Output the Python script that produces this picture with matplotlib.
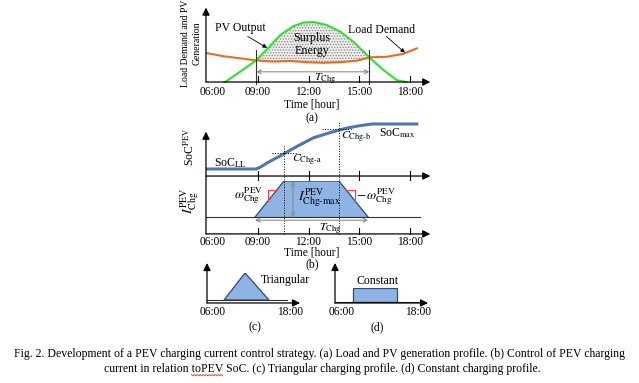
import matplotlib
matplotlib.use("Agg")
import matplotlib.pyplot as plt
from matplotlib.lines import Line2D
import numpy as np

plt.rcParams["font.family"] = ["Liberation Serif", "DejaVu Serif"]
plt.rcParams["mathtext.fontset"] = "stix"
plt.rcParams["hatch.linewidth"] = 0.6

W, H = 639, 383

# (a) load demand and PV generation (relative power, PV peak = 1)
pv_hours = [7.07, 7.95, 8.9, 9.63, 10.32, 11.1, 11.7, 12.29, 13.08, 13.87, 14.66, 15.6, 16.43, 17.22, 17.8]
pv_power = [0.0, 0.17, 0.36, 0.57, 0.78, 0.93, 0.99, 1.0, 0.95, 0.84, 0.67, 0.41, 0.2, 0.03, 0.0]
load_hours = [6.0, 6.97, 7.95, 8.9, 9.92, 10.9, 11.9, 12.88, 13.87, 14.86, 15.6, 16.63, 17.6, 18.4]
load_power = [0.48, 0.43, 0.395, 0.36, 0.34, 0.35, 0.33, 0.32, 0.33, 0.355, 0.41, 0.42, 0.47, 0.56]
charge_start, charge_end = 8.9, 15.6

# (b) PEV state of charge (LL = 0, max = 1) and charging current (max = 1)
soc_hours = [5.94, 8.9, 9.2, 9.53, 10.32, 11.31, 12.27, 13.28, 14.27, 15.0, 15.75, 18.5]
soc_level = [0.0, 0.0, 0.05, 0.13, 0.29, 0.50, 0.69, 0.81, 0.91, 0.96, 1.0, 1.0]
current_hours = [8.84, 10.55, 13.8, 15.52]
current_level = [0.0, 1.0, 1.0, 0.0]
soc_a, soc_b = 0.356, 0.89

tick_hours = [9, 12, 15, 18]
tick_labels = ["09:00", "12:00", "15:00", "18:00"]

# (c) triangular and (d) constant profiles
tri_hours = [8.46, 11.5, 14.96]
tri_level = [0.0, 1.0, 0.0]
const_hours = [8.6, 8.6, 14.96, 14.96]
const_level = [0.0, 1.0, 1.0, 0.0]

caption_1 = ("Fig. 2. Development of a PEV charging current control strategy. (a) Load and PV generation profile. "
             "(b) Control of PEV charging")
caption_2 = "current in relation toPEV SoC. (c) Triangular charging profile. (d) Constant charging profile."

green = "#2fe02f"
orange = "#ee6b1e"
blue = "#4d76b4"
fill_blue = "#8db4e2"
edge_blue = "#2c4b7c"

fig = plt.figure(figsize=(W / 100, H / 100), dpi=100)


def px_axes(x0, x1, y0, y1, ylim=(0, 1)):
    # 06:00 sits at pixel column x0, 18:00 at x1; ylim spans pixel rows y0 (bottom) to y1 (top)
    ax = fig.add_axes([x0 / W, 1 - y0 / H, (x1 - x0) / W, (y0 - y1) / H])
    ax.set_xlim(6, 18)
    ax.set_ylim(ylim)
    ax.axis("off")
    return ax


def arrow(ax, p0, p1, style="-|>", color="k", lw=0.9, ms=11):
    ax.annotate("", xy=p1, xytext=p0, annotation_clip=False,
                arrowprops=dict(arrowstyle=style, color=color, lw=lw,
                                mutation_scale=ms, shrinkA=0, shrinkB=0))


def label(ax, x, y, s, size=8, **kw):
    ax.text(x, y, s, fontsize=size, ha="center", va="center", clip_on=False, **kw)


# ---------- (a)
ax = px_axes(207, 410, 82, 22)
arrow(ax, (5.94, 0), (5.94, 1.24))
arrow(ax, (5.94, 0), (19.2, 0))
for t in tick_hours:
    ax.plot([t, t], [0, 0.1], color="k", lw=0.8, clip_on=False)
for t, s in zip([6.35] + tick_hours, ["06:00"] + tick_labels):
    label(ax, t, -0.16, s, size=8.3)
label(ax, 12.2, -0.37, "Time [hour]", size=8.3)
label(ax, 12.2, -0.6, "(a)", size=8.5)

pv_h = np.array(pv_hours)
pv_p = np.array(pv_power)
ld_h = np.array(load_hours)
ld_p = np.array(load_power)
m1 = (pv_h >= charge_start) & (pv_h <= charge_end)
m2 = (ld_h >= charge_start) & (ld_h <= charge_end)
ax.fill(np.r_[pv_h[m1], ld_h[m2][::-1]], np.r_[pv_p[m1], ld_p[m2][::-1]],
        facecolor="#ececec", edgecolor="#8a8a8a", hatch="......", lw=0)
ax.plot(load_hours, load_power, color=orange, lw=1.5, clip_on=False)
ax.plot(pv_hours, pv_power, color=green, lw=1.5, clip_on=False)

for t in (charge_start, charge_end):
    ax.plot([t, t], [-0.03, 0.53], color="#333333", lw=0.8, clip_on=False)
arrow(ax, (charge_start, 0.17), (charge_end, 0.17), style="<->", color="#8c8c8c", lw=0.8, ms=7)
label(ax, 13.0, 0.05, r"$T_{\rm Chg}$", size=8.5)

label(ax, 7.95, 0.9, "PV Output", size=8.5)
arrow(ax, (8.4, 0.76), (9.55, 0.57), lw=0.6, ms=6)
label(ax, 16.3, 0.86, "Load Demand", size=8.5)
arrow(ax, (16.6, 0.76), (17.7, 0.49), lw=0.6, ms=6)
label(ax, 12.2, 0.62, "Surplus\nEnergy", size=8.7, linespacing=1.15)

fig.text(186 / W, 1 - 43 / H, "Load Demand and PV", rotation=90, fontsize=7, ha="center", va="center")
fig.text(197 / W, 1 - 43 / H, "Generation", rotation=90, fontsize=7, ha="center", va="center")

# ---------- (b) SoC part
axs = px_axes(207, 410, 169, 124)
axs.plot(soc_hours, soc_level, color=blue, lw=2.2, clip_on=False, solid_capstyle="butt")
axs.plot([9.84, 11.32], [soc_a, soc_a], color="k", lw=0.7, ls=":", clip_on=False)
axs.plot([12.8, 14.63], [soc_b, soc_b], color="k", lw=0.7, ls=":", clip_on=False)
label(axs, 7.35, 0.13, r"SoC$_{\rm LL}$", size=8.5)
label(axs, 17.25, 0.8, r"SoC$_{\rm max}$", size=8.5)
label(axs, 11.9, 0.2, r"$C_{\rm Chg\text{-}a}$", size=8.5)
label(axs, 14.8, 0.71, r"$C_{\rm Chg\text{-}b}$", size=8.5)
for t in tick_hours:
    axs.plot([t, t], [-0.04, -0.24], color="k", lw=0.8, clip_on=False)
arrow(axs, (5.94, -0.156), (19.2, -0.156))

# ---------- (b) current part
axc = px_axes(207, 410, 217, 181)
arrow(axc, (5.94, -0.47), (5.94, 2.37))
arrow(axc, (5.94, -0.47), (19.2, -0.47))
axc.plot([5.94, 18.6], [0, 0], color="#333333", lw=0.8, clip_on=False)
for t in tick_hours:
    axc.plot([t, t], [-0.47, -0.3], color="k", lw=0.8, clip_on=False)
for t, s in zip([6.35] + tick_hours, ["06:00"] + tick_labels):
    label(axc, t, -0.69, s, size=8.3)
label(axc, 12.2, -0.99, "Time [hour]", size=8.3)
label(axc, 12.2, -1.3, "(b)", size=8.5)

axc.fill(current_hours, current_level, facecolor=fill_blue, edgecolor="none")
axc.plot(current_hours, current_level, color=edge_blue, lw=0.9)
axc.plot([current_hours[0], current_hours[-1]], [0, 0], color=edge_blue, lw=0.9, ls=":")
axc.plot([current_hours[1]] * 2, [-0.47, 2.0], color="k", lw=0.7, ls=":", clip_on=False)
axc.plot([current_hours[2]] * 2, [-0.47, 2.67], color="k", lw=0.7, ls=":", clip_on=False)
axc.plot([9.6, 9.6, 10.12], [0.44, 0.75, 0.75], color="#ff4040", lw=0.9)
axc.plot([14.23, 14.75, 14.75], [0.75, 0.75, 0.45], color="#ff4040", lw=0.9)
arrow(axc, (11.08, 0), (11.08, 1), style="<->", color="#8c8c8c", lw=0.8, ms=7)
arrow(axc, (current_hours[0], -0.09), (current_hours[-1], -0.09), style="<->", color="#8c8c8c", lw=0.8, ms=7)
label(axc, 12.65, 0.52, r"$I^{\rm PEV}_{\rm Chg\text{-}max}$", size=10)
label(axc, 8.45, 0.6, r"$\omega^{\rm PEV}_{\rm Chg}$", size=9.5)
label(axc, 16.0, 0.56, r"$-\,\omega^{\rm PEV}_{\rm Chg}$", size=9.5)
label(axc, 13.27, -0.33, r"$T_{\rm Chg}$", size=8.5)

fig.text(190 / W, 1 - 147 / H, r"SoC$^{\rm PEV}$", rotation=90, fontsize=8.5, ha="center", va="center")
fig.text(190 / W, 1 - 201 / H, r"$I^{\rm PEV}_{\rm Chg}$", rotation=90, fontsize=10, ha="center", va="center")

# ---------- (c)
ax3 = px_axes(207, 290, 300, 273)
ax3.fill(tri_hours, tri_level, facecolor=fill_blue, edgecolor=edge_blue, lw=0.9)
ax3.plot([6, 17.56], [0, 0], color="#333333", lw=0.8, clip_on=False)
arrow(ax3, (6, -0.11), (6, 1.37))
arrow(ax3, (6, -0.11), (19.45, -0.11))
label(ax3, 6.85, -0.44, "06:00", size=8.3)
label(ax3, 18.0, -0.44, "18:00", size=8.3)
label(ax3, 17.3, 0.74, "Triangular", size=8.5)
label(ax3, 12.9, -1.0, "(c)", size=8.5)

# ---------- (d)
ax4 = px_axes(335, 418, 302, 288)
ax4.fill(const_hours, const_level, facecolor=fill_blue, edgecolor=edge_blue, lw=0.9)
ax4.plot([6, 18], [0, 0], color="#333333", lw=0.8, clip_on=False)
arrow(ax4, (6, -0.07), (6, 2.79))
arrow(ax4, (6, -0.07), (19.45, -0.07))
label(ax4, 7.0, -0.71, "06:00", size=8.3)
label(ax4, 18.0, -0.71, "18:00", size=8.3)
label(ax4, 12.2, 1.5, "Constant", size=8.5)
label(ax4, 12.1, -1.79, "(d)", size=8.5)

# caption
cap_size = 8.5
fig.text(320 / W, 1 - 354 / H, caption_1, fontsize=cap_size, ha="center", va="center")
line2 = fig.text(322 / W, 1 - 369 / H, caption_2, fontsize=cap_size, ha="center", va="center")

# red spell-check squiggle under "toPEV"
fig.canvas.draw()
r = fig.canvas.get_renderer()
box = line2.get_window_extent(r)
word_start = caption_2.index("toPEV")
pre = fig.text(0, 0, caption_2[:word_start], fontsize=cap_size)
pre_w = pre.get_window_extent(r).width
word = fig.text(0, 0, "toPEV", fontsize=cap_size)
word_w = word.get_window_extent(r).width
pre.remove()
word.remove()
x0 = box.x0 + pre_w
xs = np.arange(x0, x0 + word_w, 1.5)
ys = box.y0 + 0.5 + np.where(np.arange(len(xs)) % 2 == 0, 0.0, -1.3)
fig.add_artist(Line2D(xs / W, ys / H, color="#e03030", lw=0.6, transform=fig.transFigure))

fig.savefig("out.png", dpi=100)
